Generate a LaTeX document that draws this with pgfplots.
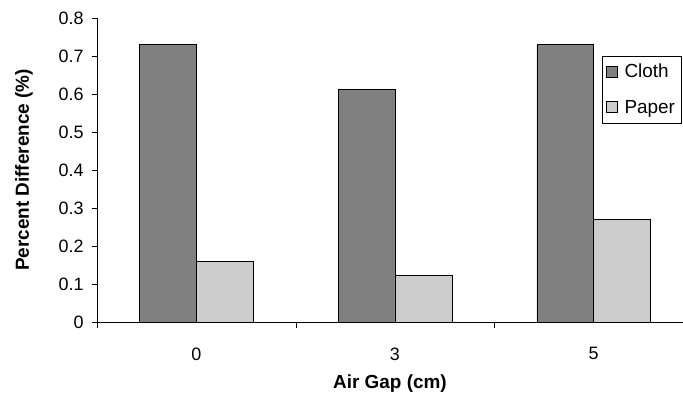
\documentclass[border=0pt]{standalone}
\usepackage{pgfplots}
\pgfplotsset{compat=1.18}
\usepackage{fontspec}
\setmainfont{Liberation Sans}
\definecolor{cloth}{HTML}{808080}
\definecolor{paper}{HTML}{CCCCCC}
\begin{document}
\begin{tikzpicture}
\begin{axis}[
  at={(0,0)}, anchor=south west,
  scale only axis,
  width=586bp, height=304bp,
  xmin=-0.5, xmax=2.45,
  ymin=0, ymax=0.8,
  axis x line=bottom, axis y line=left,
  axis line style={-, black},
  ybar=0pt, bar width=0.286,
  xtick={0,1,2}, xticklabels={0,3,5},
  major x tick style={draw=none},
  minor xtick={-0.5,0.5,1.5,2.5},
  minor tick length=6bp,
  ytick={0,0.1,...,0.8},
  yticklabels={0,0.1,0.2,0.3,0.4,0.5,0.6,0.7,0.8},
  tick align=outside,
  major tick length=5bp,
  tick style={black},
  /pgf/number format/assume math mode=true,
  ticklabel style={font=\fontsize{18}{20}\selectfont},
  xticklabel style={yshift=-17bp},
  yticklabel style={xshift=-5bp},
  xlabel={Air Gap (cm)},
  ylabel={Percent Difference (\%)},
  label style={font=\bfseries\fontsize{19}{21}\selectfont},
  xlabel style={yshift=-8bp},
  ylabel style={yshift=19bp},
  legend style={at={(0.862,0.875)}, anchor=north west, draw=black, fill=white,
    font=\fontsize{19}{21}\selectfont, row sep=17bp, inner xsep=4bp, inner ysep=6bp},
  legend image code/.code={\draw[#1, draw=black] (0bp,-5bp) rectangle (11bp,6bp);
    \path[draw=none, fill=none] (0bp,0bp) -- (16bp,0bp);},
  legend cell align=left,
  clip=false,
]
\addplot[fill=cloth, draw=black] coordinates {(0,0.73) (1,0.613) (2,0.73)};
\addplot[fill=paper, draw=black] coordinates {(0,0.16) (1,0.124) (2,0.27)};
\legend{Cloth,Paper}
\end{axis}
\pgfresetboundingbox
\useasboundingbox (-97bp,-78bp) rectangle (586bp,322bp);
\end{tikzpicture}
\end{document}
